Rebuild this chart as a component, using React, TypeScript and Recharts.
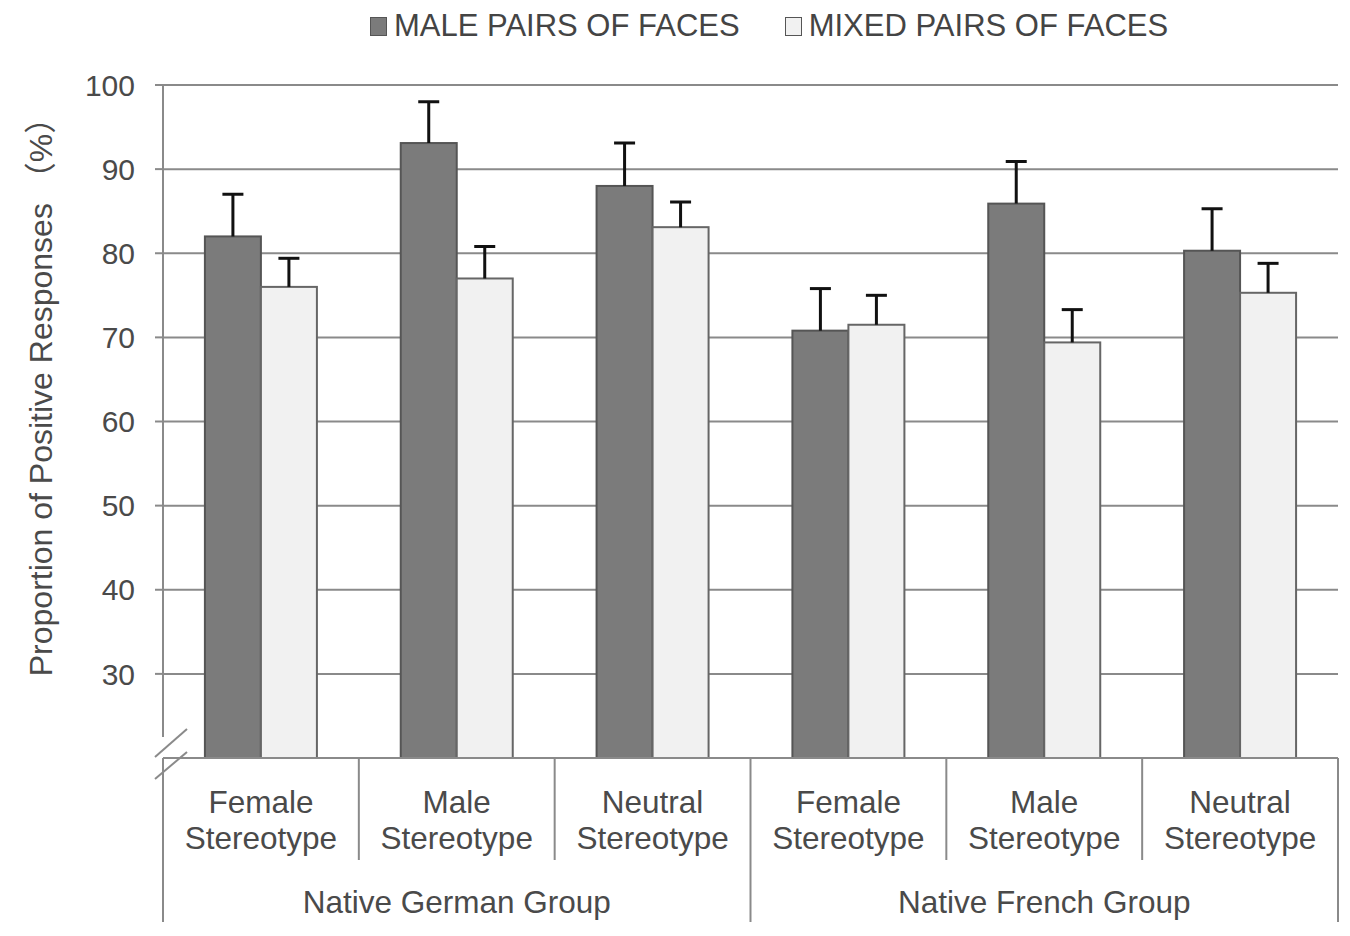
import { Bar, BarChart, CartesianGrid, Customized, Legend, XAxis, YAxis } from 'recharts';

const categories = [
    'Female Stereotype', 'Male Stereotype', 'Neutral Stereotype',
    'Female Stereotype', 'Male Stereotype', 'Neutral Stereotype',
];
const groups = ['Native German Group', 'Native French Group'];
const maleValues = [82.0, 93.1, 88.0, 70.8, 85.9, 80.3];
const maleErrors = [5.0, 4.9, 5.1, 5.0, 5.0, 5.0];
const mixedValues = [76.0, 77.0, 83.1, 71.5, 69.4, 75.3];
const mixedErrors = [3.4, 3.8, 3.0, 3.5, 3.9, 3.5];
const yTicks = [30, 40, 50, 60, 70, 80, 90, 100];
const yDomain = [20, 100];

const seriesNames = ['MALE PAIRS OF FACES', 'MIXED PAIRS OF FACES'];

const data = categories.map((name, i) => ({
    name,
    group: groups[Math.floor(i / 3)],
    male: maleValues[i],
    maleErr: maleErrors[i],
    mixed: mixedValues[i],
    mixedErr: mixedErrors[i],
}));

const W = 1350;
const H = 936;
const LEFT = 163;
const RIGHT = 1338;
const TOP = 85;
const BOTTOM = 758;
const STEP = (RIGHT - LEFT) / categories.length;

const FONT = '"Liberation Sans", Arial, Helvetica, sans-serif';
const TEXT = '#4a4a4a';
const LINE = '#8a8a8a';
const DARK = '#7b7b7b';
const LIGHT = '#f1f1f1';

// bar rectangle plus a one-sided (upper) error bar, scaled from the bar's own height
function BarWithError(props: any, valueKey: string, errKey: string) {
    const { x, y, width, height, fill, stroke, payload } = props;
    const pxPerUnit = height / (payload[valueKey] - yDomain[0]);
    const top = y - payload[errKey] * pxPerUnit;
    const cx = x + width / 2;
    return (
        <g>
            <rect x={x} y={y} width={width} height={height} fill={fill} stroke={stroke} strokeWidth={2} />
            <line x1={cx} y1={y} x2={cx} y2={top} stroke="#111" strokeWidth={3} />
            <line x1={cx - 10.5} y1={top} x2={cx + 10.5} y2={top} stroke="#111" strokeWidth={3} />
        </g>
    );
}

function CategoryTick(props: any) {
    const { x, y, payload, index } = props;
    const words = String(payload.value).split(' ');
    const left = x - STEP / 2;
    const isGroupStart = index % 3 === 0;
    const isLast = index === categories.length - 1;
    return (
        <g>
            <line x1={left} y1={y} x2={left} y2={isGroupStart ? y + 164 : y + 102} stroke={LINE} strokeWidth={2} />
            {isLast && <line x1={x + STEP / 2} y1={y} x2={x + STEP / 2} y2={y + 164} stroke={LINE} strokeWidth={2} />}
            <text x={x} y={y + 55} textAnchor="middle" fill={TEXT} fontSize={31.5} fontFamily={FONT}>{words[0]}</text>
            <text x={x} y={y + 91} textAnchor="middle" fill={TEXT} fontSize={31.5} fontFamily={FONT}>{words[1]}</text>
            {index % 3 === 1 && (
                <text x={x} y={y + 155} textAnchor="middle" fill={TEXT} fontSize={31.5} fontFamily={FONT}>
                    {groups[Math.floor(index / 3)]}
                </text>
            )}
        </g>
    );
}

function AxisDecor() {
    // y axis with break mark near the bottom
    return (
        <g>
            <line x1={LEFT} y1={TOP} x2={LEFT} y2={737} stroke={LINE} strokeWidth={2} />
            <line x1={LEFT} y1={773} x2={LEFT} y2={922} stroke={LINE} strokeWidth={2} />
            <line x1={155} y1={757} x2={187} y2={729} stroke={LINE} strokeWidth={2} />
            <line x1={155} y1={779} x2={187} y2={752} stroke={LINE} strokeWidth={2} />
            <text
                x={41}
                y={389}
                transform="rotate(-90 41 389)"
                textAnchor="middle"
                dominantBaseline="central"
                fill={TEXT}
                fontSize={32}
                fontFamily={`${FONT}, "Noto Sans CJK JP"`}
            >
                Proportion of Positive Responses （%）
            </text>
        </g>
    );
}

function LegendContent() {
    const fills = [DARK, LIGHT];
    return (
        <div style={{ display: 'flex', gap: 45, paddingLeft: 370, fontFamily: FONT, fontSize: 31, color: '#444', lineHeight: '36px' }}>
            {seriesNames.map((n, i) => (
                <div key={n} style={{ display: 'flex', alignItems: 'center', gap: 7 }}>
                    <span style={{ display: 'inline-block', width: 15, height: 17, background: fills[i], border: '1.5px solid #555' }} />
                    <span>{n}</span>
                </div>
            ))}
        </div>
    );
}

export default function App() {
    return (
        <div style={{ position: 'absolute', left: 0, top: 0, width: W, height: H, background: '#fff' }}>
            <BarChart
                width={W}
                height={H}
                data={data}
                margin={{ top: TOP, right: W - RIGHT, left: LEFT - 80, bottom: H - BOTTOM - 170 }}
                barCategoryGap="21.4%"
                barGap={0}
            >
                <CartesianGrid horizontal vertical={false} stroke={LINE} strokeWidth={2} />
                <YAxis
                    width={80}
                    domain={yDomain}
                    ticks={yTicks}
                    allowDataOverflow
                    axisLine={false}
                    tickLine={{ stroke: LINE, strokeWidth: 2 }}
                    tickSize={8}
                    tickMargin={20}
                    tick={{ fill: TEXT, fontSize: 30, fontFamily: FONT }}
                />
                <XAxis
                    dataKey="name"
                    height={170}
                    interval={0}
                    axisLine={{ stroke: LINE, strokeWidth: 2 }}
                    tickLine={false}
                    tickSize={0}
                    tickMargin={0}
                    tick={<CategoryTick />}
                />
                <Legend
                    layout="horizontal"
                    verticalAlign="middle"
                    align="center"
                    wrapperStyle={{ position: 'absolute', top: 8, left: 0, width: W, height: 40 }}
                    content={() => <LegendContent />}
                />
                <Bar
                    dataKey="male"
                    name={seriesNames[0]}
                    fill={DARK}
                    stroke="#555"
                    isAnimationActive={false}
                    shape={(p: any) => BarWithError(p, 'male', 'maleErr')}
                />
                <Bar
                    dataKey="mixed"
                    name={seriesNames[1]}
                    fill={LIGHT}
                    stroke="#666"
                    isAnimationActive={false}
                    shape={(p: any) => BarWithError(p, 'mixed', 'mixedErr')}
                />
                <Customized component={AxisDecor} />
            </BarChart>
        </div>
    );
}
